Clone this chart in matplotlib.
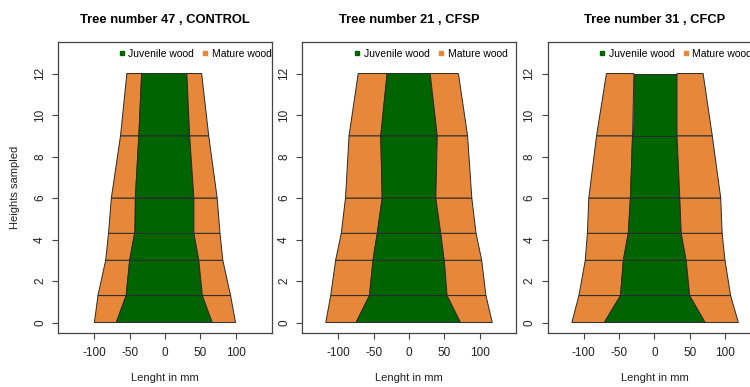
import numpy as np
import matplotlib
matplotlib.use("Agg")
import matplotlib.pyplot as plt
from matplotlib.lines import Line2D

plt.rcParams['font.family'] = ['Liberation Sans', 'DejaVu Sans']

heights = [0, 1.3, 3, 4.3, 6, 9, 12]  # sampled heights

# tree 47 , CONTROL
t47_outer_left = [-100, -95, -84, -80, -76, -63, -54]
t47_inner_left = [-69, -55, -50, -43, -42, -37, -33]
t47_inner_right = [67, 53, 48, 41, 41, 35, 31]
t47_outer_right = [100, 93, 82, 78, 74, 62, 52]

# tree 21 , CFSP
t21_outer_left = [-118, -111, -104, -96, -90, -85, -72]
t21_inner_left = [-75, -56, -51, -45, -38, -40, -31]
t21_inner_right = [73, 54, 50, 45, 38, 40, 30]
t21_outer_right = [118, 109, 103, 95, 89, 83, 70]

# tree 31 , CFCP
t31_outer_left = [-117, -107, -98, -95, -93, -82, -68]
t31_inner_left = [-71, -48, -44, -37, -34, -31, -29]
t31_inner_right = [72, 50, 45, 38, 36, 32, 32]
t31_outer_right = [119, 108, 100, 96, 94, 82, 69]

titles = ["Tree number 47 , CONTROL", "Tree number 21 , CFSP", "Tree number 31 , CFCP"]
trees = [
    (t47_outer_left, t47_inner_left, t47_inner_right, t47_outer_right),
    (t21_outer_left, t21_inner_left, t21_inner_right, t21_outer_right),
    (t31_outer_left, t31_inner_left, t31_inner_right, t31_outer_right),
]
xticks = [-100, -50, 0, 50, 100]
yticks = [0, 2, 4, 6, 8, 10, 12]

green = "#006400"
orange = "#E6873A"
edge = "#2a2a2a"
axcol = "#444444"

fig = plt.figure(figsize=(7.5, 3.87), dpi=100)
lefts = [0.0777, 0.4031, 0.7303]
leg_x = [0.277, 0.238, 0.235]  # legend start inside each frame

def strip(ax, xa, xb, h, color):
    # one band between two boundaries, drawn section by section
    for i in range(len(h) - 1):
        ax.fill([xa[i], xb[i], xb[i + 1], xa[i + 1]], [h[i], h[i], h[i + 1], h[i + 1]],
                facecolor=color, edgecolor=edge, linewidth=0.7)

for k in range(3):
    ax = fig.add_axes([lefts[k], 0.1387, 0.2845, 0.7528])
    ol, il, ir, orr = trees[k]
    strip(ax, ol, il, heights, orange)
    strip(ax, il, ir, heights, green)
    strip(ax, ir, orr, heights, orange)

    ax.set_xlim(-151.2, 151.2)
    ax.set_ylim(-0.52, 13.52)
    ax.set_xticks(xticks)
    ax.set_yticks(yticks)
    ax.set_xticklabels([str(v) for v in xticks], fontsize=8.5, color="#222222")
    ax.set_yticklabels([str(v) for v in yticks], fontsize=8.5, color="#222222",
                       rotation=90, va="center")
    ax.tick_params(direction="out", length=4.3, width=0.8, color=axcol, pad=4.5)
    ax.tick_params(axis="x", pad=5.5)
    for s in ax.spines.values():
        s.set_color(axcol)
        s.set_linewidth(0.9)

    ax.set_title(titles[k], fontsize=9.3, fontweight="bold", pad=14)
    ax.set_xlabel("Lenght in mm", fontsize=8, color="#222222")
    ax.xaxis.set_label_coords(0.5, -0.135)
    if k == 0:
        ax.set_ylabel("Heights sampled", fontsize=8, color="#222222")
        ax.yaxis.set_label_coords(-0.18, 0.5)

    handles = [Line2D([], [], marker="s", linestyle="none", color=green, markersize=3),
               Line2D([], [], marker="s", linestyle="none", color=orange, markersize=3)]
    ax.legend(handles, ["Juvenile wood", "Mature wood"], ncol=2, frameon=False,
              loc="center left", bbox_to_anchor=(leg_x[k], 0.959), fontsize=7.5,
              handlelength=0.8, handletextpad=0.25, columnspacing=0.65,
              borderaxespad=0, borderpad=0)

fig.savefig("out.png", dpi=100)
